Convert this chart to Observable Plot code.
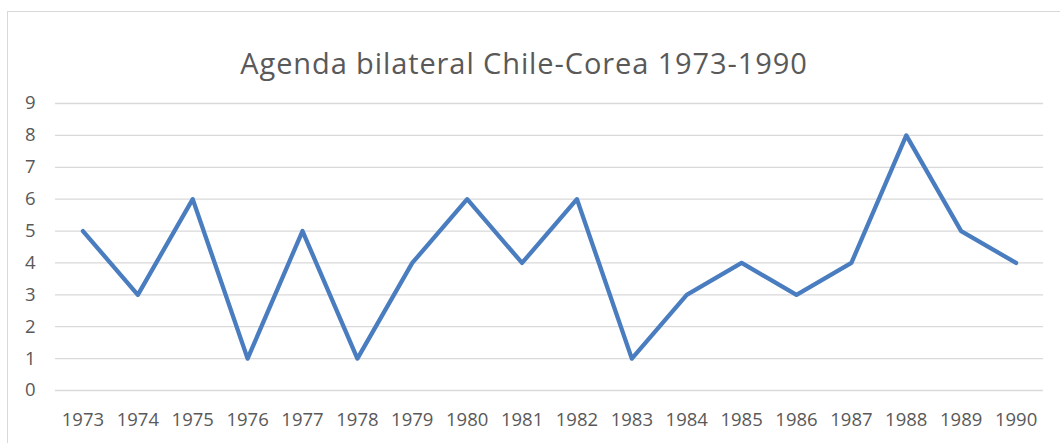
<!DOCTYPE html>
<html>
<head>
<meta charset="utf-8">
<script src="https://cdn.jsdelivr.net/npm/d3@7"></script>
<script src="https://cdn.jsdelivr.net/npm/@observablehq/plot@0.6"></script>
<style>
  html, body { margin: 0; padding: 0; background: #fff; }
  #wrap { position: relative; width: 1060px; height: 443px; overflow: hidden; }
  #frame { position: absolute; left: 7px; top: 11px; width: 1070px; height: 460px; border: 1px solid #d9d9d9; box-sizing: border-box; }
  #title { position: absolute; left: 0; width: 1048px; top: 43px; text-align: center; font-family: "Open Sans", sans-serif; font-size: 29px; letter-spacing: 0.9px; color: #595959; line-height: 40px; white-space: nowrap; }
  #chart { position: absolute; left: 0; top: 0; }
</style>
</head>
<body>
<div id="wrap">
  <div id="frame"></div>
  <div id="title">Agenda bilateral Chile-Corea 1973-1990</div>
  <div id="chart"></div>
</div>
<script>
const years = ["1973","1974","1975","1976","1977","1978","1979","1980","1981","1982","1983","1984","1985","1986","1987","1988","1989","1990"];
const values = [5,3,6,1,5,1,4,6,4,6,1,3,4,3,4,8,5,4];
const yTicks = [0,1,2,3,4,5,6,7,8,9];

const data = years.map((y, i) => ({year: y, value: values[i]}));

const chart = Plot.plot({
  width: 1060,
  height: 443,
  marginLeft: 55,
  marginRight: 17,
  marginTop: 103,
  marginBottom: 53,
  style: {fontFamily: "Open Sans, sans-serif", fontSize: "18px", color: "#595959", background: "transparent"},
  x: {type: "point", domain: years, padding: 0.5, round: false, label: null},
  y: {domain: [0, 9], label: null},
  marks: [
    Plot.gridY(yTicks, {stroke: "#d9d9d9", strokeOpacity: 1, strokeWidth: 1.3}),
    Plot.axisY(yTicks, {tickSize: 0, tickPadding: 20, fontSize: 18.5, fill: "#595959", label: null}),
    Plot.axisX(years, {tickSize: 0, tickPadding: 22, fontSize: 18.5, fill: "#595959", label: null}),
    Plot.line(data, {x: "year", y: "value", stroke: "#4a7dbf", strokeWidth: 4.3, strokeLinejoin: "round", strokeLinecap: "round"})
  ]
});
document.getElementById("chart").appendChild(chart);
</script>
</body>
</html>
